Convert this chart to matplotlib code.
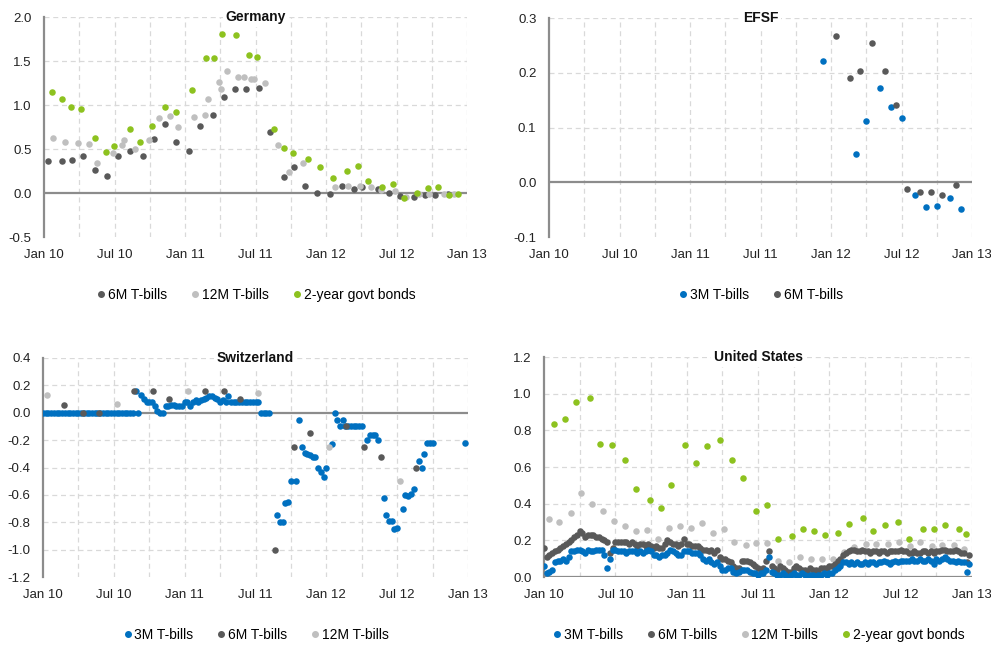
import numpy as np
import matplotlib
matplotlib.use('Agg')
import matplotlib.pyplot as plt
from matplotlib.lines import Line2D

plt.rcParams['font.family'] = ['Liberation Sans', 'DejaVu Sans']

# colours
BLUE = '#0070C0'
DARK = '#595959'
LIGHT = '#BFBFBF'
GREEN = '#8DC21F'
AXIS = '#8C8C8C'
GRID = '#D9D9D9'

month_labels = ['Jan 10', 'Jul 10', 'Jan 11', 'Jul 11', 'Jan 12', 'Jul 12', 'Jan 13']

# ---- Germany (auction dates in months since Jan 2010) ----
de_6m_x = [0.34, 1.5, 2.4, 3.35, 4.3, 5.4, 6.3, 7.3, 8.4, 9.4, 10.3, 11.2, 12.3, 13.25, 14.4,
           15.35, 16.25, 17.2, 18.3, 19.2, 20.4, 21.3, 22.2, 23.2, 24.3, 25.4, 26.4, 27.1, 28.4,
           29.4, 30.3, 31.5, 32.4, 33.3, 34.4]
de_6m_y = [0.365, 0.36, 0.37, 0.42, 0.26, 0.19, 0.42, 0.475, 0.42, 0.61, 0.78, 0.58, 0.48, 0.76, 0.89,
           1.09, 1.18, 1.18, 1.19, 0.69, 0.18, 0.29, 0.08, 0.0, -0.01, 0.08, 0.05, 0.065, 0.04,
           0.0, -0.035, -0.05, -0.02, -0.02, -0.01]
de_12m_x = [0.8, 1.75, 2.9, 3.8, 4.5, 5.9, 6.6, 6.8, 7.75, 8.9, 9.8, 10.7, 11.4, 12.8, 13.7, 13.95,
            14.9, 15.1, 15.6, 16.5, 17.0, 17.65, 17.9, 18.8, 19.95, 20.85, 22.0, 24.8, 25.9, 26.9,
            27.8, 28.7, 29.85, 30.8, 31.9, 32.8, 34.0, 34.9]
de_12m_y = [0.63, 0.58, 0.57, 0.56, 0.34, 0.45, 0.55, 0.60, 0.50, 0.60, 0.85, 0.875, 0.745, 0.865,
            0.885, 1.065, 1.26, 1.18, 1.385, 1.32, 1.32, 1.30, 1.30, 1.25, 0.55, 0.24, 0.34, 0.065,
            0.08, 0.08, 0.07, 0.03, 0.02, -0.04, -0.015, -0.015, -0.01, -0.01]
de_2y_x = [0.65, 1.55, 2.3, 3.15, 4.3, 5.25, 5.95, 7.3, 8.2, 9.15, 10.3, 11.2, 12.6, 13.8, 14.5,
           15.15, 16.3, 17.45, 18.15, 19.55, 20.45, 21.15, 22.5, 23.45, 24.6, 25.75, 26.7, 27.6,
           28.75, 29.7, 30.6, 31.75, 32.65, 33.55, 34.45, 35.2]
de_2y_y = [1.15, 1.07, 0.98, 0.95, 0.62, 0.47, 0.53, 0.73, 0.58, 0.76, 0.98, 0.92, 1.17, 1.53, 1.53,
           1.81, 1.79, 1.57, 1.55, 0.73, 0.51, 0.46, 0.39, 0.29, 0.17, 0.25, 0.31, 0.14,
           0.07, 0.10, -0.06, 0.0, 0.06, 0.07, -0.02, -0.015]

# ---- EFSF ----
efsf_3m_x = [23.3, 26.1, 27.0, 28.15, 29.1, 30.0, 31.15, 32.05, 33.0, 34.1, 35.05]
efsf_3m_y = [0.222, 0.051, 0.112, 0.173, 0.137, 0.118, -0.023, -0.046, -0.044, -0.029, -0.048]
efsf_6m_x = [24.45, 25.6, 26.5, 27.45, 28.6, 29.55, 30.45, 31.6, 32.5, 33.45, 34.6]
efsf_6m_y = [0.267, 0.191, 0.204, 0.254, 0.203, 0.142, -0.012, -0.018, -0.018, -0.024, -0.005]

# ---- Switzerland ----
nan = np.nan
ch_3m_weekly = ([0.0] * 34 +
                [0.16, 0.0, 0.13, 0.10, 0.08, 0.08, 0.08, 0.05, 0.01, 0.0, 0.0, 0.05, 0.05, 0.06,
                 0.06, 0.05, 0.05, 0.05, 0.08, 0.08, 0.05, 0.08, 0.09, 0.08, 0.09, 0.10, 0.11, 0.12,
                 0.12, 0.11, 0.10, 0.08, 0.09, 0.08, 0.12, 0.08] +
                [0.08] * 10 + [0.0] * 4 +
                [nan, nan, -0.75, -0.80, -0.80, -0.66, -0.655, -0.50, nan, -0.50, -0.05, -0.25,
                 -0.295, -0.30, -0.31, -0.32, -0.32, -0.40, -0.43, -0.47, -0.40, nan, -0.23, 0.0,
                 -0.05, -0.10, -0.05] +
                [-0.10] * 7 +
                [nan, -0.20, -0.16, -0.16, -0.16, -0.20, nan, -0.62, -0.75, -0.79, -0.79, -0.85,
                 -0.84, nan, -0.70, -0.60, -0.61, -0.59, -0.555, nan, -0.35, -0.40, -0.30, -0.22,
                 -0.22, -0.22] +
                [nan] * 11 + [-0.22])
ch_6m_x = [1.75, 3.4, 4.75, 7.67, 9.3, 10.7, 13.7, 15.3, 16.7, 19.65, 21.25, 22.6, 25.65, 27.2, 28.6, 31.6]
ch_6m_y = [0.054, 0.0, 0.0, 0.16, 0.16, 0.10, 0.16, 0.16, 0.10, -1.0, -0.25, -0.15, -0.10, -0.25, -0.32, -0.40]
ch_12m_x = [0.34, 6.3, 12.25, 18.25, 24.25, 30.2]
ch_12m_y = [0.127, 0.063, 0.156, 0.144, -0.25, -0.50]

# ---- United States ----
us_3m_weekly = [0.06, 0.02, 0.03, 0.04, 0.08, 0.09, 0.09, 0.10, 0.09, 0.11, 0.14, 0.14, 0.15, 0.15,
                0.14, 0.13, 0.15, 0.14, 0.14, 0.15, 0.15, 0.15, 0.12, 0.05, 0.10, 0.15, 0.15, 0.14,
                0.14, 0.14, 0.13, 0.14, 0.14, 0.14, 0.13, 0.14, 0.13, 0.14, 0.15, 0.14, 0.12, 0.12,
                0.11, 0.12, 0.12, 0.13, 0.15, 0.14, 0.13, 0.12, 0.12, 0.14, 0.14, 0.14, 0.13, 0.13,
                0.13, 0.12, 0.10, 0.09, 0.10, 0.08, 0.07, 0.08, 0.06, 0.04, 0.04, 0.05, 0.05, 0.03,
                0.02, 0.03, 0.04, 0.04, 0.04, 0.03, 0.02, 0.02, 0.01, 0.02, 0.02, 0.04, 0.11, 0.03,
                0.02, 0.01, 0.01, 0.02, 0.01, 0.00, 0.01, 0.02, 0.01, 0.01, 0.02, 0.01, 0.00, 0.01,
                0.01, 0.00, 0.01, 0.01, 0.02, 0.01, 0.02, 0.02, 0.04, 0.05, 0.06, 0.08, 0.08, 0.07,
                0.08, 0.07, 0.08, 0.07, 0.07, 0.08, 0.07, 0.08, 0.08, 0.07, 0.08, 0.08, 0.09, 0.08,
                0.07, 0.08, 0.09, 0.08, 0.09, 0.09, 0.09, 0.09, 0.10, 0.09, 0.09, 0.10, 0.09, 0.09,
                0.10, 0.09, 0.07, 0.10, 0.09, 0.10, 0.11, 0.10, 0.09, 0.09, 0.08, 0.09, 0.08, 0.08,
                0.03, 0.07]
us_6m_weekly = [0.16, 0.11, 0.12, 0.13, 0.14, 0.15, 0.16, 0.17, 0.18, 0.19, 0.20, 0.22, 0.23, 0.25,
                0.24, 0.22, 0.23, 0.23, 0.23, 0.22, 0.22, 0.21, 0.20, 0.19, 0.13, 0.16, 0.19, 0.19,
                0.19, 0.19, 0.19, 0.18, 0.19, 0.18, 0.17, 0.18, 0.18, 0.17, 0.18, 0.17, 0.16, 0.17,
                0.16, 0.16, 0.18, 0.20, 0.19, 0.18, 0.18, 0.17, 0.18, 0.21, 0.18, 0.18, 0.17, 0.17,
                0.17, 0.16, 0.15, 0.15, 0.14, 0.15, 0.13, 0.15, 0.11, 0.10, 0.10, 0.09, 0.08, 0.06,
                0.05, 0.05, 0.09, 0.09, 0.09, 0.08, 0.07, 0.06, 0.05, 0.04, 0.05, 0.09, 0.14, 0.06,
                0.05, 0.04, 0.06, 0.05, 0.04, 0.03, 0.03, 0.05, 0.06, 0.05, 0.04, 0.04, 0.03, 0.05,
                0.04, 0.04, 0.03, 0.05, 0.05, 0.05, 0.06, 0.06, 0.07, 0.09, 0.10, 0.12, 0.13, 0.14,
                0.15, 0.15, 0.14, 0.14, 0.15, 0.14, 0.14, 0.13, 0.14, 0.14, 0.13, 0.14, 0.14, 0.13,
                0.14, 0.14, 0.14, 0.14, 0.15, 0.14, 0.14, 0.13, 0.13, 0.14, 0.13, 0.13, 0.14, 0.14,
                0.13, 0.14, 0.13, 0.14, 0.14, 0.15, 0.15, 0.14, 0.14, 0.14, 0.15, 0.14, 0.13, 0.13,
                0.08, 0.12]
us_12m_x = [0.4, 1.3, 2.25, 3.15, 4.05, 5.0, 5.9, 6.85, 7.75, 8.7, 9.6, 10.5, 11.4, 12.35, 13.25,
            14.2, 15.1, 16.0, 17.0, 17.85, 18.75, 19.7, 20.6, 21.5, 22.45, 23.4, 24.3, 25.2, 26.1,
            27.05, 27.95, 28.9, 29.85, 30.75, 31.65, 32.6, 33.5, 34.45, 35.3]
us_12m_y = [0.319, 0.30, 0.35, 0.46, 0.40, 0.36, 0.305, 0.279, 0.25, 0.254, 0.21, 0.27, 0.279, 0.27,
            0.295, 0.24, 0.264, 0.19, 0.175, 0.184, 0.186, 0.09, 0.082, 0.11, 0.097, 0.10, 0.10,
            0.135, 0.166, 0.18, 0.18, 0.18, 0.193, 0.17, 0.19, 0.17, 0.175, 0.175, 0.155]
us_2y_x = [0.87, 1.8, 2.7, 3.85, 4.75, 5.7, 6.85, 7.75, 8.9, 9.8, 10.7, 11.85, 12.8, 13.7, 14.8,
           15.8, 16.7, 17.8, 18.75, 19.7, 20.85, 21.75, 22.7, 23.6, 24.7, 25.65, 26.8, 27.7, 28.65,
           29.8, 30.7, 31.85, 32.8, 33.7, 34.9, 35.5]
us_2y_y = [0.835, 0.863, 0.957, 0.977, 0.728, 0.719, 0.638, 0.479, 0.418, 0.374, 0.50, 0.719, 0.62,
           0.713, 0.75, 0.64, 0.54, 0.359, 0.394, 0.206, 0.226, 0.264, 0.25, 0.23, 0.24, 0.29, 0.323,
           0.25, 0.286, 0.30, 0.21, 0.264, 0.264, 0.283, 0.26, 0.233]


def week_x(n):
    # weekly observations, positions in months since Jan 2010
    return np.arange(n) * 12 / 52


def style_panel(ax, title, ylim, yticks, fmt):
    ax.set_xlim(0, 36)
    ax.set_ylim(*ylim)
    for s in ['top', 'right', 'bottom']:
        ax.spines[s].set_visible(False)
    ax.spines['left'].set_color(AXIS)
    ax.spines['left'].set_linewidth(1.6)
    for m in range(3, 37, 3):
        ax.axvline(m, color=GRID, lw=0.9, ls=(0, (4, 3)), zorder=0)
    for t in yticks:
        if t != ylim[0] and t != 0:
            ax.axhline(t, color=GRID, lw=0.9, ls=(0, (4, 3)), zorder=0)
    ax.axhline(0, color=AXIS, lw=1.6, zorder=1)
    ax.set_yticks(yticks)
    ax.set_yticklabels([fmt.format(t) for t in yticks])
    ax.set_xticks(range(0, 37, 6))
    ax.set_xticklabels(month_labels)
    ax.tick_params(length=0, labelsize=9.5, colors='#222222')
    ax.tick_params(axis='x', pad=9)
    ax.tick_params(axis='y', pad=9)
    ax.text(0.5, 1.0, title, transform=ax.transAxes, ha='center', va='center',
            fontsize=10, fontweight='bold', color='#111111',
            bbox=dict(facecolor='white', edgecolor='none', pad=2), zorder=5)


def add_legend(ax, items, y=-0.265):
    handles = [Line2D([], [], ls='none', marker='o', markersize=4, color=c, label=l)
               for l, c in items]
    ax.legend(handles=handles, loc='center', bbox_to_anchor=(0.5, y), ncol=len(items),
              frameon=False, handletextpad=0.1, columnspacing=1.6, handlelength=0.8,
              prop={'size': 10})


fig = plt.figure(figsize=(9.91, 6.46), dpi=100)
W, H = 991, 646


def panel(l, r, t, b):
    return fig.add_axes([l / W, 1 - b / H, (r - l) / W, (b - t) / H])


S = 22

# Germany
ax = panel(44, 467, 17, 237)
style_panel(ax, 'Germany', (-0.5, 2.0), [-0.5, 0.0, 0.5, 1.0, 1.5, 2.0], '{:.1f}')
ax.scatter(de_6m_x, de_6m_y, s=S, color=DARK, lw=0, zorder=3)
ax.scatter(de_12m_x, de_12m_y, s=S, color=LIGHT, lw=0, zorder=3)
ax.scatter(de_2y_x, de_2y_y, s=S, color=GREEN, lw=0, zorder=3)
add_legend(ax, [('6M T-bills', DARK), ('12M T-bills', LIGHT), ('2-year govt bonds', GREEN)])

# EFSF
ax = panel(549, 972, 18, 237)
style_panel(ax, 'EFSF', (-0.1, 0.3), [-0.1, 0.0, 0.1, 0.2, 0.3], '{:.1f}')
ax.scatter(efsf_3m_x, efsf_3m_y, s=S, color=BLUE, lw=0, zorder=3)
ax.scatter(efsf_6m_x, efsf_6m_y, s=S, color=DARK, lw=0, zorder=3)
add_legend(ax, [('3M T-bills', BLUE), ('6M T-bills', DARK)])

# Switzerland
ax = panel(43, 468, 358, 577)
style_panel(ax, 'Switzerland', (-1.2, 0.4), [-1.2, -1.0, -0.8, -0.6, -0.4, -0.2, 0.0, 0.2, 0.4], '{:.1f}')
ax.scatter(week_x(len(ch_3m_weekly)), ch_3m_weekly, s=S, color=BLUE, lw=0, zorder=3)
ax.scatter(ch_6m_x, ch_6m_y, s=S, color=DARK, lw=0, zorder=4)
ax.scatter(ch_12m_x, ch_12m_y, s=S, color=LIGHT, lw=0, zorder=4)
add_legend(ax, [('3M T-bills', BLUE), ('6M T-bills', DARK), ('12M T-bills', LIGHT)])

# United States
ax = panel(544, 972, 357, 577)
style_panel(ax, 'United States', (0.0, 1.2), [0.0, 0.2, 0.4, 0.6, 0.8, 1.0, 1.2], '{:.1f}')
ax.scatter(us_12m_x, us_12m_y, s=S, color=LIGHT, lw=0, zorder=3)
ax.scatter(us_2y_x, us_2y_y, s=S, color=GREEN, lw=0, zorder=3)
ax.scatter(week_x(len(us_6m_weekly)), us_6m_weekly, s=S, color=DARK, lw=0, zorder=3)
ax.scatter(week_x(len(us_3m_weekly)), us_3m_weekly, s=S, color=BLUE, lw=0, zorder=3)
add_legend(ax, [('3M T-bills', BLUE), ('6M T-bills', DARK), ('12M T-bills', LIGHT),
                ('2-year govt bonds', GREEN)])

fig.savefig('out.png', dpi=100)
